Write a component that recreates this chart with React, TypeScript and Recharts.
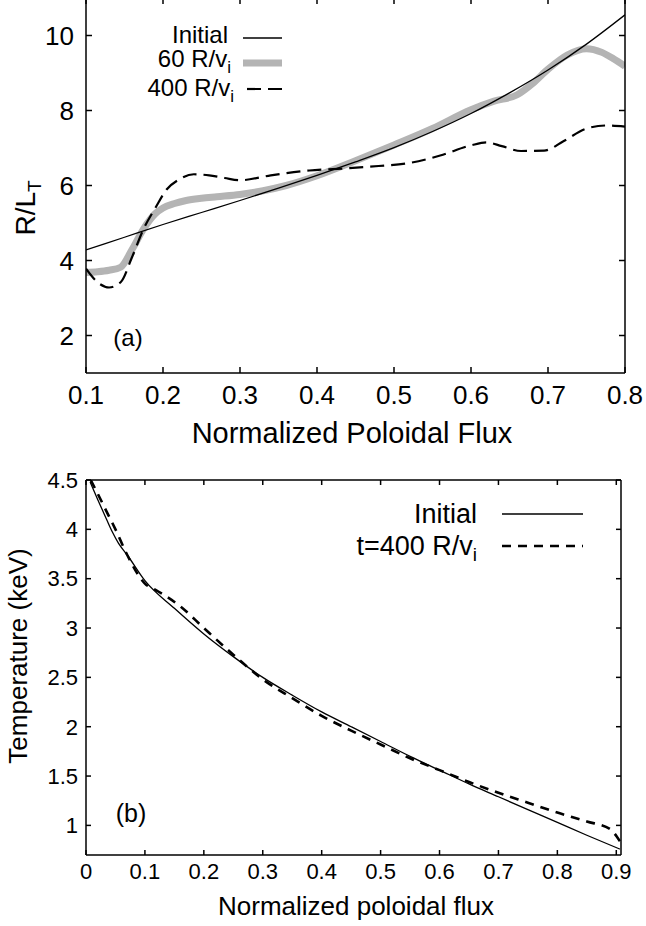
import React from 'react';
import { LineChart, Line, XAxis, YAxis } from 'recharts';

const FONT = '"Liberation Sans", Arial, Helvetica, sans-serif';

// panel (a): R/L_T against normalized poloidal flux
const aInitX = [0.1, 0.15, 0.2, 0.25, 0.3, 0.35, 0.4, 0.45, 0.5, 0.55, 0.6, 0.65, 0.7, 0.75, 0.8];
const aInitY = [4.28, 4.62, 4.96, 5.28, 5.6, 5.93, 6.27, 6.63, 7.01, 7.44, 7.92, 8.47, 9.08, 9.77, 10.55];

const a60X = [0.1, 0.115, 0.13, 0.145, 0.16, 0.175, 0.19, 0.2, 0.215, 0.23, 0.25, 0.27, 0.3, 0.33, 0.36, 0.4, 0.45, 0.5, 0.55, 0.6, 0.63, 0.66, 0.68, 0.7, 0.725, 0.75, 0.77, 0.785, 0.8];
const a60Y = [3.68, 3.7, 3.74, 3.82, 4.3, 4.85, 5.25, 5.4, 5.52, 5.6, 5.66, 5.7, 5.76, 5.86, 6.0, 6.26, 6.66, 7.08, 7.52, 8.02, 8.25, 8.42, 8.72, 9.1, 9.48, 9.65, 9.55, 9.38, 9.18];

const a400X = [0.1, 0.115, 0.13, 0.145, 0.16, 0.175, 0.19, 0.205, 0.22, 0.24, 0.26, 0.28, 0.3, 0.34, 0.39, 0.44, 0.48, 0.52, 0.56, 0.6, 0.62, 0.64, 0.665, 0.695, 0.72, 0.75, 0.775, 0.8];
const a400Y = [3.78, 3.42, 3.28, 3.42, 4.1, 4.85, 5.4, 5.9, 6.15, 6.3, 6.27, 6.2, 6.14, 6.27, 6.4, 6.46, 6.52, 6.6, 6.8, 7.07, 7.15, 7.05, 6.92, 6.93, 7.18, 7.52, 7.6, 7.57];

const aXTicks = [0.1, 0.2, 0.3, 0.4, 0.5, 0.6, 0.7, 0.8];
const aYTicks = [2, 4, 6, 8, 10];

// panel (b): temperature profile
const bInitX = [0.007, 0.02, 0.035, 0.045, 0.055, 0.07, 0.1, 0.15, 0.2, 0.25, 0.3, 0.35, 0.4, 0.45, 0.5, 0.55, 0.6, 0.65, 0.7, 0.75, 0.8, 0.85, 0.906];
const bInitY = [4.48, 4.3, 4.1, 3.97, 3.86, 3.74, 3.48, 3.2, 2.94, 2.71, 2.5, 2.32, 2.15, 2.0, 1.85, 1.7, 1.56, 1.42, 1.29, 1.16, 1.03, 0.9, 0.76];

const b400X = [0.008, 0.02, 0.035, 0.05, 0.07, 0.1, 0.12, 0.16, 0.2, 0.25, 0.3, 0.35, 0.4, 0.45, 0.5, 0.55, 0.6, 0.65, 0.7, 0.75, 0.8, 0.85, 0.89, 0.906];
const b400Y = [4.5, 4.36, 4.18, 4.0, 3.74, 3.45, 3.38, 3.22, 3.0, 2.73, 2.48, 2.29, 2.11, 1.96, 1.82, 1.68, 1.56, 1.44, 1.33, 1.23, 1.13, 1.04, 0.96, 0.84];

const bXTicks = [0, 0.1, 0.2, 0.3, 0.4, 0.5, 0.6, 0.7, 0.8, 0.9];
const bYTicks = [1, 1.5, 2, 2.5, 3, 3.5, 4, 4.5];

const pts = (xs: number[], ys: number[]) => xs.map((x, i) => ({ x, y: ys[i] }));

const frame = { stroke: '#000', strokeWidth: 1.5 };
const noText = () => null;

const Sub = ({ size, children }: { size: number; children: React.ReactNode }) => (
  <tspan fontSize={size} dy={size * 0.33}>{children}</tspan>
);

function PanelA() {
  const tick = { fontSize: 26, fill: '#000', fontFamily: FONT };
  return (
    <div style={{ position: 'absolute', left: 0, top: -3 }}>
      <LineChart width={646} height={463} margin={{ top: 0, right: 20, bottom: 0, left: 0 }}>
        <XAxis
          xAxisId="b" dataKey="x" type="number" domain={[0.1, 0.8]} ticks={aXTicks} interval={0}
          allowDataOverflow height={87} tickSize={-6} tickMargin={19}
          axisLine={frame} tickLine={frame} tick={tick}
          label={() => (
            <text x={352} y={446} textAnchor="middle" fontSize={29} fontFamily={FONT} fill="#000">
              Normalized Poloidal Flux
            </text>
          )}
        />
        <XAxis
          xAxisId="t" orientation="top" dataKey="x" type="number" domain={[0.1, 0.8]} ticks={aXTicks}
          interval={0} allowDataOverflow height={1} tickSize={-6} axisLine={frame} tickLine={frame} tick={noText}
        />
        <YAxis
          yAxisId="l" type="number" domain={[1, 11]} ticks={aYTicks} interval={0} allowDataOverflow
          width={86} tickSize={-6} tickMargin={18} axisLine={frame} tickLine={frame} tick={tick}
          label={() => (
            <text x={35} y={211} transform="rotate(-90, 35, 211)" textAnchor="middle" fontSize={28} fontFamily={FONT} fill="#000">
              R/L<Sub size={19}>T</Sub>
            </text>
          )}
        />
        <YAxis
          yAxisId="r" orientation="right" type="number" domain={[1, 11]} ticks={aYTicks} interval={0}
          allowDataOverflow width={1} tickSize={-6} axisLine={frame} tickLine={frame} tick={noText}
        />
        <Line
          xAxisId="b" yAxisId="l" data={pts(a60X, a60Y)} dataKey="y" type="monotone"
          stroke="#b4b4b4" strokeWidth={7} dot={false} isAnimationActive={false}
        />
        <Line
          xAxisId="b" yAxisId="l" data={pts(aInitX, aInitY)} dataKey="y" type="monotone"
          stroke="#000" strokeWidth={1.3} dot={false} isAnimationActive={false}
        />
        <Line
          xAxisId="b" yAxisId="l" data={pts(a400X, a400Y)} dataKey="y" type="monotone"
          stroke="#000" strokeWidth={2.2} strokeDasharray="14 7" dot={false} isAnimationActive={false}
        />
        <g fontFamily={FONT} fontSize={24} fill="#000">
          <text x={228} y={46} textAnchor="end">Initial</text>
          <line x1={243} x2={282} y1={41} y2={41} stroke="#000" strokeWidth={1.5} />
          <text x={231} y={70} textAnchor="end">60 R/v<Sub size={17}>i</Sub></text>
          <line x1={243} x2={282} y1={66} y2={66} stroke="#b4b4b4" strokeWidth={7} />
          <text x={234} y={99} textAnchor="end">400 R/v<Sub size={17}>i</Sub></text>
          <line x1={247} x2={283} y1={92} y2={92} stroke="#000" strokeWidth={2.2} strokeDasharray="14 7" />
          <text x={128} y={349} textAnchor="middle" fontSize={24}>(a)</text>
        </g>
      </LineChart>
    </div>
  );
}

function PanelB() {
  const tick = { fontSize: 22, fill: '#000', fontFamily: FONT };
  // chart box starts 20px above the plot frame so the top tick label is not clipped
  return (
    <div style={{ position: 'absolute', left: 0, top: 459 }}>
      <LineChart width={646} height={467} margin={{ top: 20, right: 24, bottom: 0, left: 0 }}>
        <XAxis
          xAxisId="b" dataKey="x" type="number" domain={[0, 0.908]} ticks={bXTicks} interval={0}
          allowDataOverflow height={71} tickSize={-5} tickMargin={13}
          axisLine={frame} tickLine={frame} tick={tick}
          label={() => (
            <text x={356} y={456} textAnchor="middle" fontSize={26} fontFamily={FONT} fill="#000">
              Normalized poloidal flux
            </text>
          )}
        />
        <XAxis
          xAxisId="t" orientation="top" dataKey="x" type="number" domain={[0, 0.908]} ticks={bXTicks}
          interval={0} allowDataOverflow height={1} tickSize={-5} axisLine={frame} tickLine={frame} tick={noText}
        />
        <YAxis
          yAxisId="l" type="number" domain={[0.7, 4.5]} ticks={bYTicks} interval={0} allowDataOverflow
          width={86} tickSize={-5} tickMargin={13} axisLine={frame} tickLine={frame} tick={tick}
          label={() => (
            <text x={27} y={197} transform="rotate(-90, 27, 197)" textAnchor="middle" fontSize={26} fontFamily={FONT} fill="#000">
              Temperature (keV)
            </text>
          )}
        />
        <YAxis
          yAxisId="r" orientation="right" type="number" domain={[0.7, 4.5]} ticks={bYTicks} interval={0}
          allowDataOverflow width={1} tickSize={-5} axisLine={frame} tickLine={frame} tick={noText}
        />
        <Line
          xAxisId="b" yAxisId="l" data={pts(bInitX, bInitY)} dataKey="y" type="monotone"
          stroke="#000" strokeWidth={1.3} dot={false} isAnimationActive={false}
        />
        <Line
          xAxisId="b" yAxisId="l" data={pts(b400X, b400Y)} dataKey="y" type="monotone"
          stroke="#000" strokeWidth={2.6} strokeDasharray="9 7" dot={false} isAnimationActive={false}
        />
        <g fontFamily={FONT} fontSize={27} fill="#000">
          <text x={477} y={64} textAnchor="end">Initial</text>
          <line x1={502} x2={583} y1={55} y2={55} stroke="#000" strokeWidth={1.5} />
          <text x={477} y={96} textAnchor="end">t=400 R/v<Sub size={19}>i</Sub></text>
          <line x1={502} x2={583} y1={87} y2={87} stroke="#000" strokeWidth={2.6} strokeDasharray="9 7" />
          <text x={131} y={363} textAnchor="middle" fontSize={25}>(b)</text>
        </g>
      </LineChart>
    </div>
  );
}

export default function App() {
  return (
    <div style={{ position: 'absolute', left: 0, top: 0, width: 646, height: 926, background: '#fff', overflow: 'hidden' }}>
      <PanelA />
      <PanelB />
    </div>
  );
}
